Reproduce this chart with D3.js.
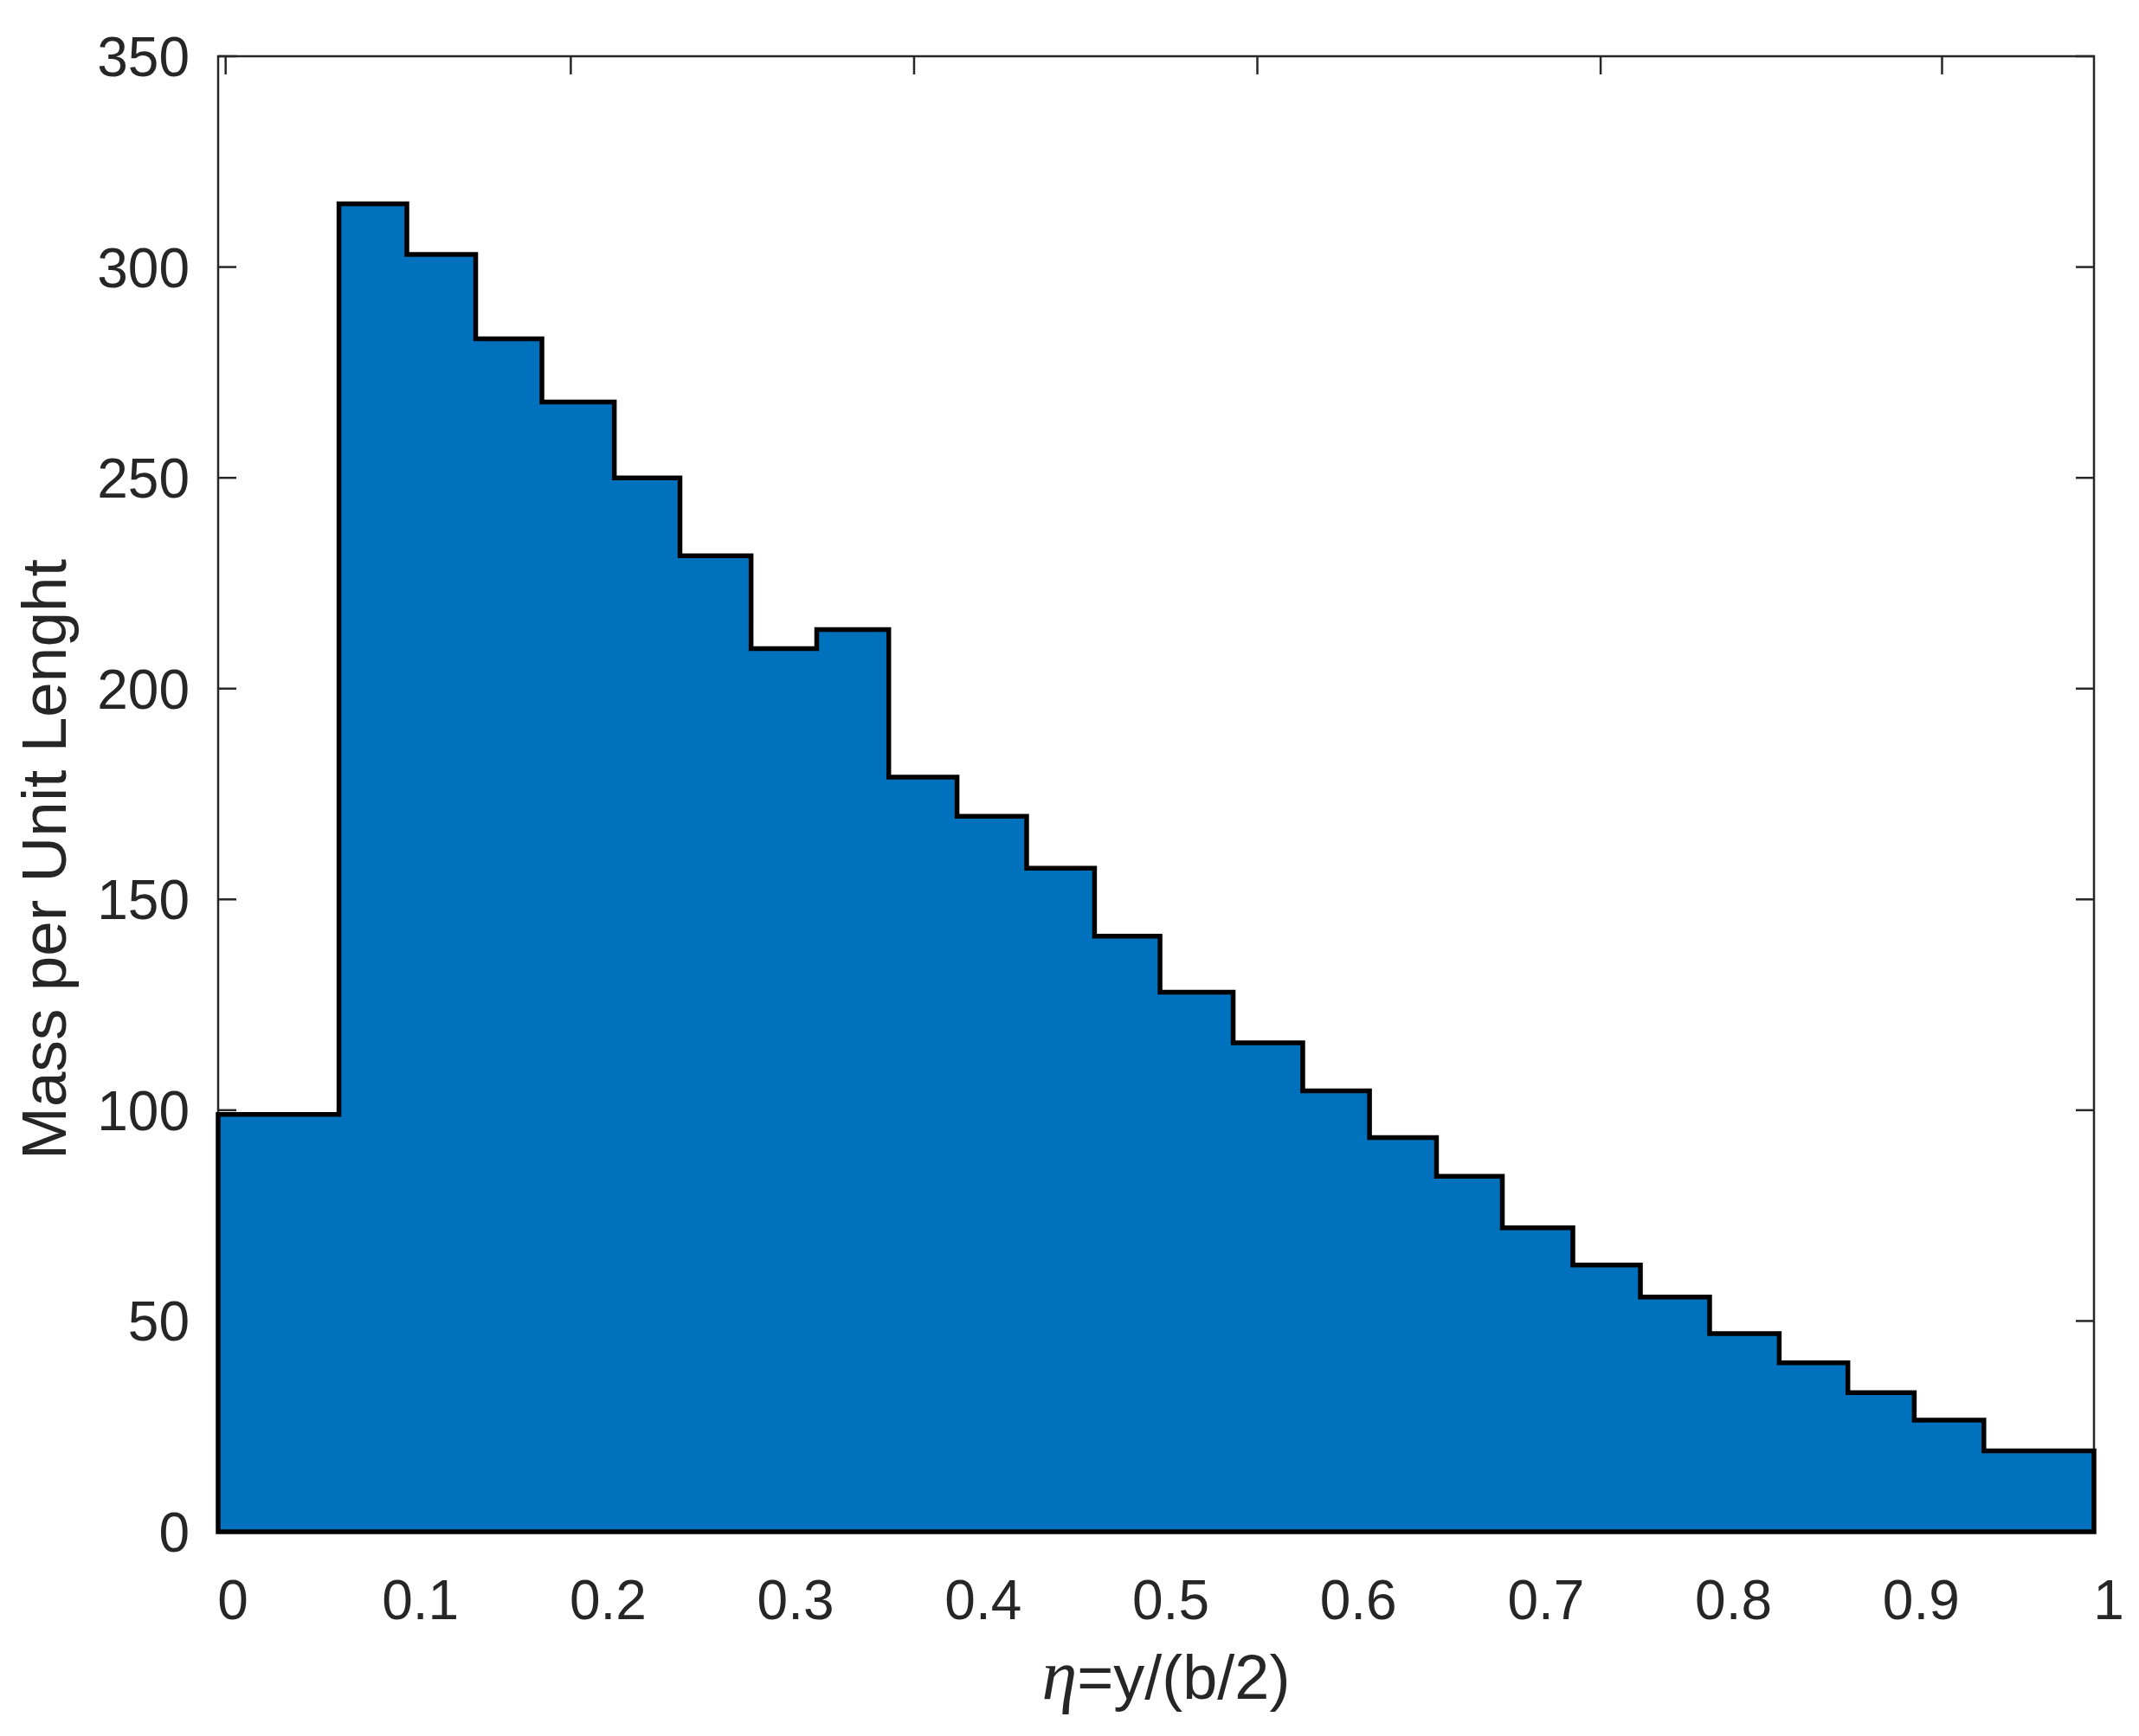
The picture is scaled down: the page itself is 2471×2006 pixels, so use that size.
<!DOCTYPE html>
<html>
<head>
<meta charset="utf-8">
<title>Mass per Unit Lenght</title>
<style>
  body { margin: 0; background: #fff; }
  svg { display: block; font-family: "Liberation Sans", Arial, sans-serif; }
</style>
</head>
<body>
<svg width="2471" height="2006"></svg>
<script src="https://d3js.org/d3.v7.min.js"></script>
<script>
// bin edges along the half span (eta) and mass per unit length in each bin
var binEdges = [0, 0.0644, 0.1006, 0.1373, 0.1726, 0.2112, 0.2462, 0.2841, 0.3191,
                0.3575, 0.3939, 0.4310, 0.4672, 0.5021, 0.5411, 0.5782, 0.6138,
                0.6495, 0.6846, 0.7222, 0.7582, 0.7951, 0.8322, 0.8688, 0.9042,
                0.9413, 1.0];
var massValues = [99, 315, 303, 283, 268, 250, 231.5, 209.5, 214, 179, 169.7,
                  157.4, 141.3, 128, 116, 104.6, 93.5, 84.3, 72.1, 63.3, 55.7,
                  47, 40.1, 33, 26.5, 19.2];
var xTicks = [0, 0.1, 0.2, 0.3, 0.4, 0.5, 0.6, 0.7, 0.8, 0.9, 1];
var yTicks = [0, 50, 100, 150, 200, 250, 300, 350];
// ticks on the top edge (from a second, unlabeled axis)
var topTicks = [0.004, 0.188, 0.371, 0.554, 0.737, 0.919];

var svg = d3.select("svg"),
    margin = {top: 65, right: 52, bottom: 236, left: 252},
    width = +svg.attr("width") - margin.left - margin.right,
    height = +svg.attr("height") - margin.top - margin.bottom,
    g = svg.append("g").attr("transform", "translate(" + margin.left + "," + margin.top + ")");

var axisColor = "#262626",
    tickLen = 21;

var x = d3.scaleLinear().domain([0, 1]).range([0, width]);
var y = d3.scaleLinear().domain([0, 350]).range([height, 0]);

// box
g.append("rect")
    .attr("width", width)
    .attr("height", height)
    .attr("fill", "none")
    .attr("stroke", axisColor)
    .attr("stroke-width", 2.5);

// inward ticks (left, right, bottom, top)
var ticks = g.append("g").attr("stroke", axisColor).attr("stroke-width", 2.5);
ticks.selectAll(".yl").data(yTicks).enter().append("line")
    .attr("x1", 0).attr("x2", tickLen)
    .attr("y1", function(d) { return y(d); }).attr("y2", function(d) { return y(d); });
ticks.selectAll(".yr").data(yTicks).enter().append("line")
    .attr("x1", width - tickLen).attr("x2", width)
    .attr("y1", function(d) { return y(d); }).attr("y2", function(d) { return y(d); });
ticks.selectAll(".xb").data(xTicks).enter().append("line")
    .attr("x1", function(d) { return x(d); }).attr("x2", function(d) { return x(d); })
    .attr("y1", height - tickLen).attr("y2", height);
ticks.selectAll(".xt").data(topTicks).enter().append("line")
    .attr("x1", function(d) { return x(d); }).attr("x2", function(d) { return x(d); })
    .attr("y1", 0).attr("y2", tickLen);

// stairs area
var pts = massValues.map(function(v, i) { return [binEdges[i], v]; });
pts.push([binEdges[binEdges.length - 1], massValues[massValues.length - 1]]);

var area = d3.area()
    .curve(d3.curveStepAfter)
    .x(function(d) { return x(d[0]); })
    .y0(y(0))
    .y1(function(d) { return y(d[1]); });

g.append("path")
    .datum(pts)
    .attr("d", area)
    .attr("fill", "#0072BD")
    .attr("stroke", "#000")
    .attr("stroke-width", 5.5)
    .attr("stroke-linejoin", "miter");

// tick labels
g.append("g")
    .attr("font-size", 64)
    .attr("fill", axisColor)
    .attr("text-anchor", "end")
  .selectAll("text")
  .data(yTicks)
  .enter().append("text")
    .attr("x", -33)
    .attr("y", function(d) { return y(d); })
    .attr("dy", "0.36em")
    .text(function(d) { return d; });

g.append("g")
    .attr("font-size", 64)
    .attr("fill", axisColor)
    .attr("text-anchor", "middle")
  .selectAll("text")
  .data(xTicks)
  .enter().append("text")
    .attr("x", function(d) { return x(d) + 17; })
    .attr("y", height + 101)
    .text(function(d) { return d; });

// axis titles
var xt = svg.append("text")
    .attr("x", 1347)
    .attr("y", 1963)
    .attr("text-anchor", "middle")
    .attr("font-size", 72)
    .attr("fill", axisColor);
xt.append("tspan")
    .attr("font-family", "'Liberation Serif', 'Times New Roman', serif")
    .attr("font-style", "italic")
    .attr("font-size", 82)
    .text("η");
xt.append("tspan").text("=y/(b/2)");

svg.append("text")
    .attr("transform", "translate(76,993) rotate(-90)")
    .attr("text-anchor", "middle")
    .attr("font-size", 73)
    .attr("fill", axisColor)
    .text("Mass per Unit Lenght");
</script>
</body>
</html>
